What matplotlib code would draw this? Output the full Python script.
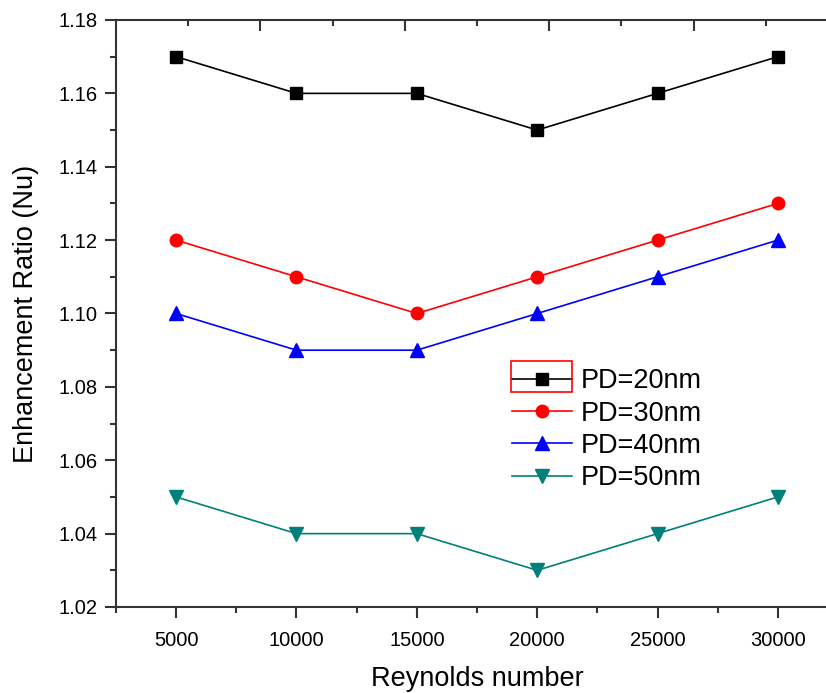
import matplotlib.pyplot as plt
from matplotlib.patches import Rectangle
from matplotlib.ticker import MultipleLocator

plt.rcParams['font.family'] = ['Liberation Sans', 'DejaVu Sans']

reynolds = [5000, 10000, 15000, 20000, 25000, 30000]
pd20 = [1.17, 1.16, 1.16, 1.15, 1.16, 1.17]
pd30 = [1.12, 1.11, 1.10, 1.11, 1.12, 1.13]
pd40 = [1.10, 1.09, 1.09, 1.10, 1.11, 1.12]
pd50 = [1.05, 1.04, 1.04, 1.03, 1.04, 1.05]

fig = plt.figure(figsize=(8.26, 6.93), dpi=100)
fig.patch.set_facecolor("#ffffff")

# axes run a little past the right edge, so no right spine shows
ax = fig.add_axes([116/826, 86/693, 722/826, 587/693])

ax.plot(reynolds, pd20, color='black', marker='s', ms=9, lw=1.2, label='PD=20nm')
ax.plot(reynolds, pd30, color='red', marker='o', ms=9, lw=1.2, label='PD=30nm')
ax.plot(reynolds, pd40, color='blue', marker='^', ms=10, lw=1.2, label='PD=40nm')
ax.plot(reynolds, pd50, color='#00807a', marker='v', ms=10, lw=1.2, label='PD=50nm')

ax.set_xlim(2500, 32500)
ax.set_ylim(1.02, 1.18)
ax.set_xticks(reynolds)
ax.xaxis.set_minor_locator(MultipleLocator(2500))
ax.yaxis.set_major_locator(MultipleLocator(0.02))
ax.yaxis.set_minor_locator(MultipleLocator(0.01))
ax.yaxis.set_major_formatter(plt.FormatStrFormatter('%.2f'))

for s in ['left', 'bottom', 'top']:
    ax.spines[s].set_linewidth(1.5)
    ax.spines[s].set_color('#333333')
ax.spines['right'].set_visible(False)

ax.tick_params(which='major', length=8, width=1.5, color='#333333', labelsize=14.5, pad=5)
ax.tick_params(which='minor', length=4.5, width=1.5, color='#333333')
ax.tick_params(axis='x', which='major', pad=9)

# top axis: inward ticks, no labels
top = ax.secondary_xaxis('top')
top.set_xticks([8500, 14500, 20500, 26500])
top.xaxis.set_minor_locator(plt.FixedLocator([5500, 11500, 17500, 23500, 29500]))
top.tick_params(which='major', direction='in', length=8, width=1.5, color='#333333', labeltop=False)
top.tick_params(which='minor', direction='in', length=4.5, width=1.5, color='#333333')
top.spines['top'].set_visible(False)

ax.set_xlabel('Reynolds number', fontsize=19.5, labelpad=12)
ax.set_ylabel('Enhancement Ratio (Nu)', fontsize=19.5, labelpad=14)

leg = ax.legend(loc='upper left', bbox_to_anchor=(0.534, 0.425), frameon=False,
                fontsize=19.5, handlelength=2.2, handletextpad=0.33,
                labelspacing=0.23, borderaxespad=0)

# red selection box around the first legend entry
fig.patches.append(Rectangle((511/826, 1 - 392/693), 61/826, 31/693,
                             transform=fig.transFigure, fill=False,
                             edgecolor='red', lw=1.2))

fig.savefig('out.png', dpi=100)
